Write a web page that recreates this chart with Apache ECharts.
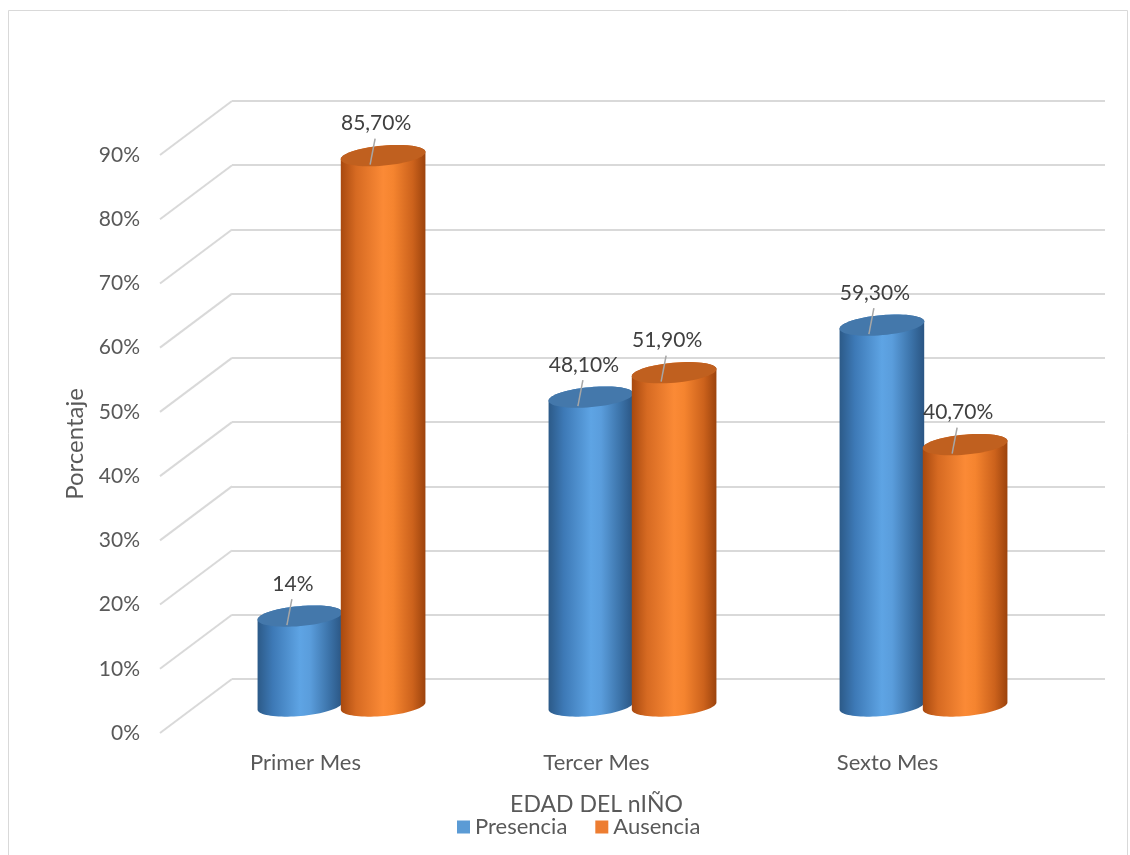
<!DOCTYPE html>
<html>
<head>
<meta charset="utf-8">
<script src="https://cdn.jsdelivr.net/npm/echarts@6/dist/echarts.min.js"></script>
<style>
html,body{margin:0;padding:0;background:#fff;}
#chart{width:1130px;height:855px;}
</style>
</head>
<body>
<div id="chart"></div>
<script>
// ---- data ----
var categories = ['Primer Mes', 'Tercer Mes', 'Sexto Mes'];
var seriesNames = ['Presencia', 'Ausencia'];
var presencia = [0.14, 0.481, 0.593];
var ausencia = [0.857, 0.519, 0.407];
var tickValues = [0, 0.1, 0.2, 0.3, 0.4, 0.5, 0.6, 0.7, 0.8, 0.9];
var xTitle = 'EDAD DEL nIÑO';
var yTitle = 'Porcentaje';

// ---- layout / style ----
var FONT = 'Lato, "Open Sans", sans-serif';
var TXT = '#595959';
var DX = 72, DY = 54;           // depth offset front -> back wall
var front = {left: 160, right: 97, top: 155, bottom: 122};
function shifted(g, f) {
  return {left: g.left + DX * f, right: g.right - DX * f, top: g.top - DY * f, bottom: g.bottom + DY * f};
}
var back = shifted(front, 1);
var mid = shifted(front, 0.5);

var palettes = [
  {body: ['#2c5a88', '#3d79b6', '#5ea4e4', '#5a9ddc', '#3b72a8', '#2a5583'], top: '#4478ab', legend: '#5b9bd5'},
  {body: ['#a8490f', '#d66a22', '#fb8a36', '#f5842f', '#cc621c', '#9c430d'], top: '#c0601f', legend: '#ed7d31'}
];

function fmtPct(v) {
  var p = Math.round(v * 1000) / 10;
  if (Math.abs(p - Math.round(p)) < 1e-9) return Math.round(p) + '%';
  return p.toFixed(2).replace('.', ',') + '%';
}

function ellipsePts(cx, cy, rx, ry, th, t0, t1, n) {
  var pts = [];
  for (var i = 0; i <= n; i++) {
    var t = t0 + (t1 - t0) * i / n;
    var x = cx + rx * Math.cos(t) * Math.cos(th) - ry * Math.sin(t) * Math.sin(th);
    var y = cy + rx * Math.cos(t) * Math.sin(th) + ry * Math.sin(t) * Math.cos(th);
    pts.push([x, y]);
  }
  return pts;
}

function makeBarRender(sIdx) {
  return function (params, api) {
    var idx = api.value(0), v = api.value(1);
    var band = api.size([1, 0])[0];
    var base = api.coord([idx, 0]);
    var topP = api.coord([idx, v]);
    var w = band * 0.292;
    var cx = base[0] + (sIdx === 0 ? -1 : 1) * band * 0.143;
    var rx = w / 2, ry = 10, th = -0.09;
    var pal = palettes[sIdx];
    var bottomArc = ellipsePts(cx, base[1], rx, ry, th, 0, Math.PI, 40);
    var topArc = ellipsePts(cx, topP[1], rx, ry, th, Math.PI, 2 * Math.PI, 40);
    var body = bottomArc.concat(topArc);
    var stops = pal.body.map(function (c, i) {
      return {offset: [0, 0.18, 0.5, 0.62, 0.85, 1][i], color: c};
    });
    var topEl = ellipsePts(cx, topP[1], rx, ry, th, 0, 2 * Math.PI, 60);
    return {
      type: 'group',
      children: [
        {type: 'polygon', shape: {points: body},
          style: {fill: new echarts.graphic.LinearGradient(0, 0, 1, 0, stops)}},
        {type: 'polygon', shape: {points: topEl}, style: {fill: pal.top}},
        {type: 'line', shape: {x1: cx - 8, y1: topP[1] - 17, x2: cx - 13, y2: topP[1] + 9},
          style: {stroke: '#a6a6a6', lineWidth: 1.5}},
        {type: 'text', style: {text: fmtPct(v), x: cx - 7, y: topP[1] - 32,
          textAlign: 'center', textVerticalAlign: 'middle', fill: '#404040',
          font: '21px ' + FONT}}
      ]
    };
  };
}

var chart = echarts.init(document.getElementById('chart'), null, {renderer: 'canvas'});

var axisBase = {min: 0, max: 0.9, interval: 0.1, type: 'value'};

var option = {
  backgroundColor: '#ffffff',
  animation: false,
  textStyle: {fontFamily: FONT},
  graphic: [{
    type: 'rect', shape: {x: 8.5, y: 10.5, width: 1119, height: 852},
    style: {fill: 'none', stroke: '#d9d9d9', lineWidth: 1}, z: -10
  }],
  legend: {
    data: seriesNames.map(function (n, i) { return {name: n, itemStyle: {color: palettes[i].legend}}; }),
    left: 452, top: 811, icon: 'rect', itemWidth: 13, itemHeight: 13, itemGap: 28, itemTextGap: 5,
    textStyle: {color: TXT, fontSize: 22, fontFamily: FONT}
  },
  grid: [
    {left: front.left, right: front.right, top: front.top, bottom: front.bottom},
    {left: back.left, right: back.right, top: back.top, bottom: back.bottom},
    {left: mid.left, right: mid.right, top: mid.top, bottom: mid.bottom}
  ],
  xAxis: [
    {type: 'category', gridIndex: 0, data: categories,
      axisLine: {show: false}, axisTick: {show: false},
      axisLabel: {color: TXT, fontSize: 22, margin: 19, fontFamily: FONT},
      name: xTitle, nameLocation: 'middle', nameGap: 60,
      nameTextStyle: {color: TXT, fontSize: 23, fontFamily: FONT}},
    {type: 'category', gridIndex: 1, data: categories, show: false},
    {type: 'category', gridIndex: 2, data: categories, show: false}
  ],
  yAxis: [
    Object.assign({gridIndex: 0,
      axisLine: {show: false}, axisTick: {show: false}, splitLine: {show: false},
      axisLabel: {color: TXT, fontSize: 21, margin: 20, fontFamily: FONT,
        formatter: function (v) { return Math.round(v * 100) + '%'; }},
      name: yTitle, nameLocation: 'middle', nameGap: 73,
      nameTextStyle: {color: TXT, fontSize: 24, fontFamily: FONT}}, axisBase),
    Object.assign({gridIndex: 1,
      axisLine: {show: false}, axisTick: {show: false}, axisLabel: {show: false},
      splitLine: {show: true, lineStyle: {color: '#d9d9d9', width: 2}}}, axisBase),
    Object.assign({gridIndex: 2, show: false}, axisBase)
  ],
  series: [
    {
      type: 'custom', name: 'walls', xAxisIndex: 1, yAxisIndex: 1, z: 1,
      data: tickValues.map(function (t) { return [0, t]; }),
      renderItem: function (params, api) {
        var p = api.coord([0, api.value(1)]);
        var x = params.coordSys.x;
        return {type: 'line', shape: {x1: x - DX, y1: p[1] + DY, x2: x, y2: p[1]},
          style: {stroke: '#d9d9d9', lineWidth: 2}};
      },
      silent: true
    },
    {
      type: 'custom', name: seriesNames[0], xAxisIndex: 2, yAxisIndex: 2, z: 5,
      itemStyle: {color: palettes[0].legend},
      data: presencia.map(function (v, i) { return [i, v]; }),
      renderItem: makeBarRender(0)
    },
    {
      type: 'custom', name: seriesNames[1], xAxisIndex: 2, yAxisIndex: 2, z: 6,
      itemStyle: {color: palettes[1].legend},
      data: ausencia.map(function (v, i) { return [i, v]; }),
      renderItem: makeBarRender(1)
    }
  ]
};
chart.setOption(option);
</script>
</body>
</html>
